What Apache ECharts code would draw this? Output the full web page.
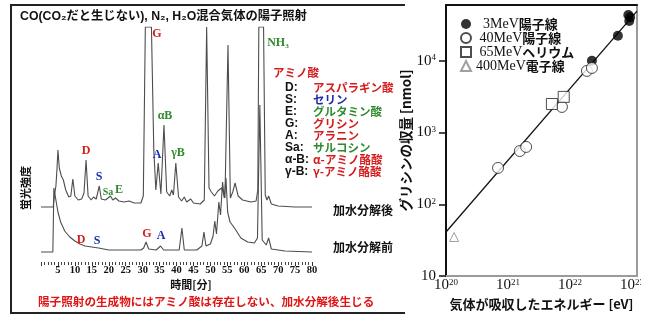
<!DOCTYPE html>
<html><head><meta charset="utf-8">
<script src="https://cdn.jsdelivr.net/npm/echarts@6.0.0/dist/echarts.min.js"></script>
<style>html,body{margin:0;padding:0;background:#fff}#c{width:655px;height:320px}</style>
</head><body><div id="c"></div>
<script>
// ---------- Left panel: chromatogram (retention time [min] vs fluorescence, arbitrary units)
const afterTime = [0,3.6,4.0,4.4,4.7,5.0,5.4,6.0,6.6,7.3,8.2,8.8,9.4,10.0,11.0,12.0,12.7,13.3,13.9,14.8,15.5,16.3,17.2,17.8,19.0,19.8,20.5,21.2,22.0,23.0,24.5,26.0,27.5,29.5,30.2,30.8,32.6,33.3,33.9,34.6,35.4,36.3,37.1,38.0,38.6,39.1,39.8,40.6,41.5,42.3,43.0,44.2,45.0,47.0,48.2,48.9,49.6,50.3,51.2,52.2,53.3,54.3,55.2,55.9,56.6,57.3,58.2,59.5,62.0,63.5,64.0,64.3,65.7,66.2,66.7,67.2,68.0,70.0,75.0,80.0];
const afterSignal = [55,55,67,76,92,112,94,86,82,72,65,66,83,66,62,63,69,102,66,62,65,63,76,63,62,64,66,62,64,61,60,61,59,59,66,235,235,112,72,99,68,137,70,66,72,67,99,65,61,65,60,63,59,58,62,235,74,70,66,71,74,64,217,64,70,79,66,62,60,61,72,235,235,67,62,66,58,56,55,55];
const beforeTime = [0,3.5,3.8,4.4,5.0,5.8,7.0,8.5,10.0,11.5,13.0,15.0,17.0,20.0,25.0,29.5,30.3,31.0,31.8,34.0,35.3,36.2,40.8,41.6,42.3,46.0,47.5,48.1,48.7,50.0,50.8,51.3,51.8,52.5,53.0,53.6,54.1,54.6,55.1,55.8,56.7,57.5,59.0,61.0,63.0,63.9,64.6,65.3,66.5,67.2,68.0,72.0,80.0];
const beforeSignal = [10,10,74,62,50,40,31,25,21,18,16,15,14,12,12,12,14,20,13,12,16,12,12,34,12,12,16,30,16,18,26,41,28,60,47,80,64,84,50,40,36,32,24,20,19,24,157,22,17,24,13,11,10];
const timeMin = 0, timeMax = 80, timeStep = 5;
const signalMax = 235;

// ---------- Right panel: glycine yield vs absorbed energy
const p3E = [2.25e22, 5.9e22, 8.7e22, 9.0e22, 9.3e22];
const p3Y = [10000, 22400, 43500, 36000, 40600];
const p40E = [6.9e20, 1.55e21, 1.96e21, 7.4e21, 1.87e22, 2.25e22];
const p40Y = [321, 553, 630, 2275, 7230, 7950];
const he65E = [5.1e21, 7.9e21];
const he65Y = [2500, 3140];
const e400E = [1.35e20];
const e400Y = [35];
const fitE = [1e20, 1.2e23];
const fitY = [41, 49200];
const energyMin = 1e20, energyMax = 1.2e23;
const yieldMin = 10, yieldMax = 6e4;
const yieldTicks = [10, 100, 1000, 10000];
const seriesNames = ['3MeV陽子線', '40MeV陽子線', '65MeVヘリウム', '400MeV電子線'];

const zip = (a, b) => a.map((v, i) => [v, b[i]]);
const SERIF = "'Liberation Serif', 'Noto Sans CJK JP', serif";
const SANS = "'Liberation Sans', 'Noto Sans CJK JP', sans-serif";
const CJK = "'Noto Sans CJK JP', sans-serif";
const RED = '#d41c1c', BLUE = '#1c2cae', GREEN = '#2f8a2f';

function T(text, x, y, color, font, align, extra) {
  return Object.assign({type: 'text', x: x, y: y, z: 10,
    style: {text: text, fill: color, font: font, textAlign: align || 'left', textVerticalAlign: 'middle'}}, extra || {});
}
function powLabel(v) {
  const e = Math.log10(v);
  const r = Math.round(e);
  if (Math.abs(e - r) > 1e-6) return '';
  if (r === 1) return '{b|10}';
  return '{b|10}{s|' + r + '}';
}
const powRich = {
  b: {fontFamily: SERIF, fontSize: 15, color: '#111', verticalAlign: 'bottom', lineHeight: 15},
  s: {fontFamily: SERIF, fontSize: 9, color: '#111', verticalAlign: 'top', lineHeight: 15}
};

const peakFont = "bold 12px 'Liberation Serif', serif";
const rowFont = "bold 12px " + SANS;
const legendRows = [
  ['D:', 'アスパラギン酸', RED], ['S:', 'セリン', BLUE], ['E:', 'グルタミン酸', GREEN],
  ['G:', 'グリシン', RED], ['A:', 'アラニン', RED], ['Sa:', 'サルコシン', GREEN],
  ['α-B:', 'α-アミノ酪酸', RED], ['γ-B:', 'γ-アミノ酪酸', RED]
];

const graphics = [
  {type: 'polyline', z: 5, shape: {points: [[405, 5], [11, 5], [11, 313], [405, 313]]}, style: {stroke: '#222', lineWidth: 2, fill: null}},
  T('CO(CO₂だと生じない), N₂, H₂O混合気体の陽子照射', 20, 17, '#111', "bold 12.3px " + SANS),
  T('蛍光強度', 26, 188, '#111', "bold 11px " + CJK, 'center', {rotation: Math.PI / 2}),
  T('時間[分]', 191, 285, '#111', "bold 11px " + CJK, 'center'),
  T('陽子照射の生成物にはアミノ酸は存在しない、加水分解後生じる', 38, 302, '#e01515', "bold 11.6px " + CJK),
  T('加水分解後', 333, 210, '#111', "bold 12px " + CJK),
  T('加水分解前', 333, 247, '#111', "bold 12px " + CJK),
  T('アミノ酸', 273, 73, RED, "bold 11.5px " + CJK),
  // peak labels
  T('G', 157, 34, RED, peakFont, 'center'),
  T('NH₃', 278, 43, GREEN, "bold 12px 'Liberation Serif', serif", 'center'),
  T('αB', 165, 116, GREEN, peakFont, 'center'),
  T('A', 157, 155, BLUE, peakFont, 'center'),
  T('γB', 178, 153, GREEN, peakFont, 'center'),
  T('D', 86, 151, RED, peakFont, 'center'),
  T('S', 99, 177, BLUE, peakFont, 'center'),
  T('Sa', 108, 192, GREEN, "bold 10px 'Liberation Serif', serif", 'center'),
  T('E', 119, 190, GREEN, peakFont, 'center'),
  T('D', 81, 240, RED, peakFont, 'center'),
  T('S', 97, 241, BLUE, peakFont, 'center'),
  T('G', 147, 234, RED, peakFont, 'center'),
  T('A', 161, 236, BLUE, peakFont, 'center'),
  {type: 'rect', z: 100, shape: {x: 641, y: 0, width: 20, height: 320}, style: {fill: '#fff'}}
];
legendRows.forEach((r, i) => {
  graphics.push(T(r[0], 285, 88 + 12 * i, '#111', rowFont));
  graphics.push(T(r[1], 313, 88 + 12 * i, r[2], "bold 11.5px " + CJK));
});

const chart = echarts.init(document.getElementById('c'), null, {renderer: 'canvas'});
const sym = {color: '#fff', borderColor: '#222', borderWidth: 1};
chart.setOption({
  animation: false,
  backgroundColor: '#fff',
  grid: [
    {left: 41, top: 27, width: 271, height: 235},
    {left: 446, top: 5, width: 191, height: 271}
  ],
  xAxis: [
    {type: 'value', gridIndex: 0, min: timeMin, max: timeMax, interval: timeStep,
      axisLine: {show: false}, splitLine: {show: false},
      axisTick: {show: true, length: 4, lineStyle: {color: '#333'}},
      minorTick: {show: true, splitNumber: 5, length: 3, lineStyle: {color: '#444'}},
      axisLabel: {fontFamily: 'Liberation Serif', fontWeight: 'bold', fontSize: 10.5, color: '#111', margin: 3,
        formatter: v => (v === 0 ? '' : String(v))}},
    {type: 'log', gridIndex: 1, min: energyMin, max: energyMax, logBase: 10,
      axisLine: {lineStyle: {color: '#9a9a9a', width: 2}}, axisTick: {show: false}, splitLine: {show: false},
      axisLabel: {formatter: powLabel, rich: powRich, margin: 2, hideOverlap: false},
      name: '気体が吸収したエネルギー [eV]', nameLocation: 'middle', nameGap: 20,
      nameTextStyle: {fontFamily: CJK, fontWeight: 'bold', fontSize: 13, color: '#111'}},
    {type: 'log', gridIndex: 1, min: energyMin, max: energyMax, position: 'top',
      axisLine: {lineStyle: {color: '#111', width: 2}}, axisTick: {show: false}, axisLabel: {show: false}, splitLine: {show: false}}
  ],
  yAxis: [
    {type: 'value', gridIndex: 0, min: 0, max: signalMax, show: false},
    {type: 'log', gridIndex: 1, min: yieldMin, max: yieldMax, logBase: 10,
      axisLine: {lineStyle: {color: '#111', width: 2}},
      axisTick: {show: true, length: 7, lineStyle: {color: '#111', width: 1.5}, customValues: yieldTicks},
      splitLine: {show: false},
      axisLabel: {formatter: powLabel, rich: powRich, margin: 10},
      name: 'グリシンの収量 [nmol]', nameLocation: 'middle', nameGap: 21, nameRotate: 90,
      nameTextStyle: {fontFamily: CJK, fontWeight: 'bold', fontSize: 13.5, color: '#111'}},
    {type: 'log', gridIndex: 1, min: yieldMin, max: yieldMax, position: 'right',
      axisLine: {lineStyle: {color: '#9a9a9a', width: 2}}, axisTick: {show: false}, axisLabel: {show: false}, splitLine: {show: false}}
  ],
  legend: {
    left: 455, top: 12, orient: 'vertical', itemGap: 0, itemWidth: 10, itemHeight: 10,
    data: seriesNames,
    formatter: name => {
      const m = name.match(/^(\d+)(MeV)(.*)$/);
      const pad = m[1].length === 1 ? '  ' : (m[1].length === 2 ? ' ' : '');
      return '{n|' + pad + m[1] + m[2] + '}{j|' + m[3] + '}';
    },
    textStyle: {rich: {
      n: {fontFamily: 'Liberation Serif', fontSize: 14, color: '#111', lineHeight: 13, verticalAlign: 'middle'},
      j: {fontFamily: CJK, fontWeight: 'bold', fontSize: 13, color: '#111', lineHeight: 13, verticalAlign: 'middle'}
    }}
  },
  series: [
    {type: 'line', xAxisIndex: 0, yAxisIndex: 0, data: zip(afterTime, afterSignal), showSymbol: false, symbol: 'none',
      lineStyle: {color: '#4d4d4d', width: 1.1}, clip: true},
    {type: 'line', xAxisIndex: 0, yAxisIndex: 0, data: zip(beforeTime, beforeSignal), showSymbol: false, symbol: 'none',
      lineStyle: {color: '#4d4d4d', width: 1.1}, clip: true},
    {name: 'fit', type: 'line', xAxisIndex: 1, yAxisIndex: 1, data: zip(fitE, fitY), symbol: 'none',
      lineStyle: {color: '#111', width: 1.3}, z: 2},
    {name: seriesNames[0], type: 'scatter', xAxisIndex: 1, yAxisIndex: 1, data: zip(p3E, p3Y),
      symbol: 'circle', symbolSize: 10, itemStyle: {color: '#000'}, z: 3},
    {name: seriesNames[1], type: 'scatter', xAxisIndex: 1, yAxisIndex: 1, data: zip(p40E, p40Y),
      symbol: 'circle', symbolSize: 11, itemStyle: sym, z: 3},
    {name: seriesNames[2], type: 'scatter', xAxisIndex: 1, yAxisIndex: 1, data: zip(he65E, he65Y),
      symbol: 'rect', symbolSize: 11, itemStyle: sym, z: 3},
    {name: seriesNames[3], type: 'scatter', xAxisIndex: 1, yAxisIndex: 1, data: zip(e400E, e400Y),
      symbol: 'triangle', symbolSize: 9, itemStyle: {color: '#fff', borderColor: '#888', borderWidth: 1}, z: 3}
  ],
  graphic: graphics
});
</script>
</body></html>
